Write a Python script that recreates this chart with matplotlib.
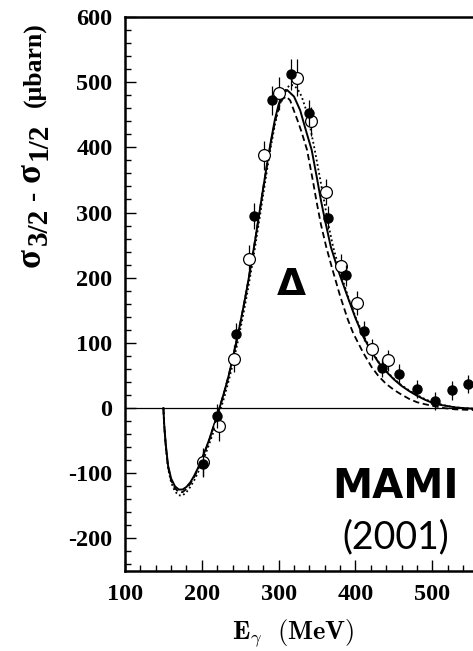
import matplotlib
matplotlib.use("Agg")
import matplotlib.pyplot as plt
from matplotlib.ticker import MultipleLocator

plt.rcParams["axes.unicode_minus"] = False

# данные: закрашенные точки
full_x = [202, 220, 244, 268, 292, 316, 340, 364, 388, 411, 434, 457, 480, 503, 526, 547]
full_y = [-86, -12, 113, 295, 472, 512, 453, 292, 204, 118, 62, 53, 29, 11, 27, 37]
full_err = [20, 18, 18, 20, 22, 24, 20, 18, 16, 15, 14, 14, 14, 14, 14, 14]

# открытые точки
open_x = [202, 222, 242, 262, 281, 301, 324, 342, 362, 381, 402, 421, 442]
open_y = [-83, -28, 76, 228, 388, 483, 507, 440, 332, 218, 161, 90, 73]
open_err = [22, 22, 20, 22, 22, 25, 28, 22, 20, 18, 18, 16, 16]

# теоретические кривые
solid_x = [150, 151, 153, 156, 160, 165, 170, 175, 180, 185, 190, 195, 200, 205, 210,
           215, 220, 225, 230, 235, 240, 245, 250, 255, 260, 265, 270, 275, 280, 285,
           290, 295, 300, 305, 311, 320, 328, 335, 343, 350, 355, 360, 368, 376, 380,
           390, 400, 410, 420, 430, 440, 450, 460, 470, 480, 490, 500, 510, 520, 530,
           540, 553]
solid_y = [0, -25, -55, -88, -108, -120, -125, -125, -121, -114, -104, -92, -78, -63, -47,
           -29, -12, 8, 28, 50, 75, 102, 130, 160, 192, 226, 262, 300, 338, 375,
           410, 442, 466, 481, 488, 478, 457, 428, 396, 352, 319, 290, 247, 217, 203,
           170, 138, 110, 88, 70, 56, 44, 34, 26, 19, 13, 8, 5, 3, 1,
           0, -1]

dash_x = [150, 151, 153, 156, 160, 165, 170, 175, 180, 185, 190, 195, 200, 205, 210,
          215, 220, 225, 230, 235, 240, 245, 250, 255, 260, 265, 270, 275, 280, 285,
          290, 295, 300, 305, 310, 315, 320, 325, 330, 337, 345, 349, 355, 362, 369,
          380, 390, 397, 410, 421, 430, 440, 450, 458, 470, 480, 490, 502, 515, 530,
          553]
dash_y = [0, -26, -57, -90, -111, -123, -129, -129, -124, -116, -106, -94, -80, -64, -48,
          -30, -12, 8, 28, 50, 75, 102, 130, 160, 192, 226, 262, 300, 338, 374,
          408, 438, 462, 474, 478, 472, 456, 440, 423, 396, 346, 319, 282, 247, 217,
          172, 136, 115, 85, 63, 49, 37, 28, 22, 14, 9, 6, 3, 0, -2,
          -3]

dot_x = [150, 151, 153, 156, 160, 165, 170, 175, 180, 185, 190, 195, 200, 205, 210,
         215, 220, 225, 230, 235, 240, 245, 250, 255, 260, 265, 270, 275, 280, 285,
         290, 295, 300, 305, 310, 315, 320, 325, 330, 335, 340, 347, 353, 359, 365,
         371, 378, 385, 392, 400, 410, 420, 430, 440, 450, 460, 470, 480, 490, 500,
         510, 520, 530, 540, 553]
dot_y = [0, -25, -58, -92, -114, -128, -134, -134, -129, -121, -111, -99, -85, -70, -54,
         -37, -19, 0, 20, 42, 66, 92, 120, 150, 182, 216, 252, 290, 328, 366,
         402, 434, 460, 478, 490, 496, 495, 489, 478, 460, 437, 396, 358, 319, 280,
         247, 217, 191, 165, 140, 112, 90, 71, 57, 45, 35, 27, 20, 14, 9,
         6, 3, 1, 0, -1]

# подпись оси y: (текст, размер, сдвиг вниз, отступ после)
ylabel_parts = [("σ", 25, 0, 3), ("3/2", 21, 7, 8), ("-", 20, 0, 8),
                ("σ", 25, 0, 3), ("1/2", 21, 7, 16), ("(μbarn)", 18.5, 0, 0)]

fig = plt.figure(figsize=(4.73, 6.51), dpi=100)
ax = fig.add_axes([125 / 473, 80 / 651, 348 / 473, 554 / 651])

ax.axhline(0, color="black", lw=0.9, zorder=1)
ax.plot(solid_x, solid_y, color="black", lw=1.4, zorder=2)
ax.plot(dash_x, dash_y, color="black", lw=1.3, dashes=(3.5, 2), zorder=2)
ax.plot(dot_x, dot_y, color="black", lw=1.3, linestyle=(0, (1, 1.5)), zorder=2)

ax.errorbar(full_x, full_y, yerr=full_err, fmt="o", color="black", ms=6.5,
            elinewidth=0.9, capsize=0, zorder=4)
ax.errorbar(open_x, open_y, yerr=open_err, fmt="o", color="black", mfc="white",
            mec="black", mew=0.9, ms=8.5, elinewidth=0.9, capsize=0, zorder=3)

ax.set_xlim(100, 553)
ax.set_ylim(-250, 600)
ax.xaxis.set_major_locator(MultipleLocator(100))
ax.xaxis.set_minor_locator(MultipleLocator(20))
ax.yaxis.set_major_locator(MultipleLocator(100))
ax.yaxis.set_minor_locator(MultipleLocator(20))
ax.tick_params(which="both", direction="in", top=False, right=False, width=1.0)
ax.tick_params(which="major", length=8, pad=9)
ax.tick_params(which="minor", length=4)
for lab in ax.get_xticklabels() + ax.get_yticklabels():
    lab.set_fontfamily("Liberation Serif")
    lab.set_fontweight("bold")
    lab.set_fontsize(17.5)

for s in ["left", "bottom", "top"]:
    ax.spines[s].set_linewidth(1.8)
ax.spines["right"].set_visible(False)

ax.text(317, 189, "Δ", fontsize=27, fontweight="bold", family="DejaVu Sans",
        ha="center", va="center")
ax.text(452, -121, "MAMI", fontsize=29, fontweight="bold", family="DejaVu Sans",
        ha="center", va="center")
ax.text(452, -198, "(2001)", fontsize=27, family="Lato", ha="center", va="center")

# подпись оси y собирается снизу вверх из кусочков
renderer = fig.canvas.get_renderer()
ypos = 651 - 267
for txt, size, dx, gap in ylabel_parts:
    t = fig.text((40 + dx) / 473, ypos / 651, txt, rotation=90,
                 rotation_mode="anchor", ha="left", va="baseline", fontsize=size,
                 fontweight="bold", family="Liberation Serif")
    ypos += t.get_window_extent(renderer).height + gap

fig.text(293 / 473, 1 - 633 / 651, r"$\mathbf{E}_{\gamma}\ \ \mathbf{(MeV)}$",
         ha="center", va="center", fontsize=19, math_fontfamily="cm")

fig.savefig("out.png", dpi=100)
